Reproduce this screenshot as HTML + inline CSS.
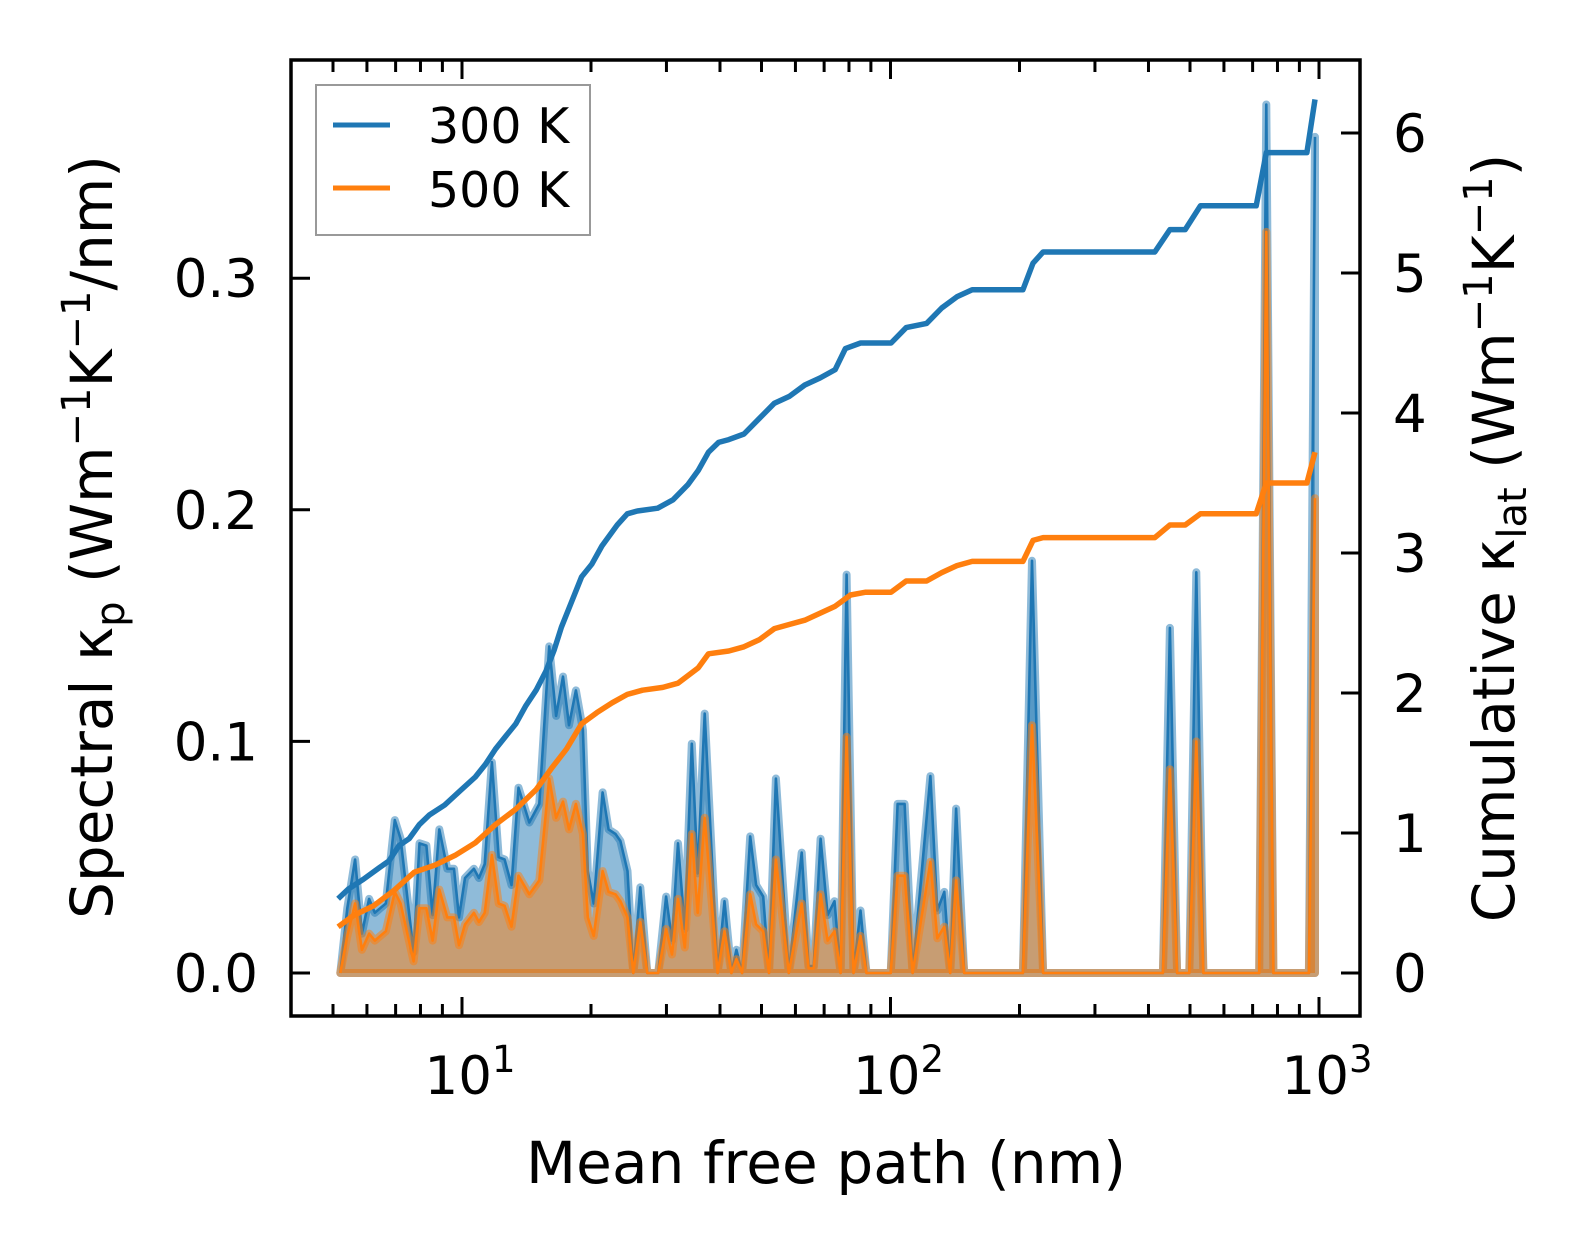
<!DOCTYPE html>
<html><head><meta charset="utf-8"><style>
html,body{margin:0;padding:0;background:#fff;}
svg{display:block;font-family:"DejaVu Sans","Liberation Sans",sans-serif;}
</style></head><body>
<svg id="chart" width="1586" height="1254" viewBox="0 0 1586 1254" xmlns="http://www.w3.org/2000/svg">
<defs><clipPath id="clip"><rect x="291" y="60" width="1069" height="956"/></clipPath></defs>
<rect width="1586" height="1254" fill="#fff"/>
<g id="plot" clip-path="url(#clip)"></g>
<g id="axes"></g>
<g>
<rect x="316" y="85" width="274" height="150" fill="#fff" stroke="#999" stroke-width="2"/>
<line x1="333" y1="125" x2="390" y2="125" stroke="#1f77b4" stroke-width="5"/>
<text x="428" y="143" font-size="49">300 K</text>
<line x1="333" y1="188" x2="390" y2="188" stroke="#ff7f0e" stroke-width="5"/>
<text x="428" y="207" font-size="49">500 K</text>
</g>
<text x="826" y="1183" font-size="58" text-anchor="middle" textLength="600">Mean free path (nm)</text>
<text transform="translate(112,537) rotate(-90)" font-size="58" text-anchor="middle">Spectral κ<tspan font-size="40" dy="12">p</tspan><tspan dy="-12"> (Wm</tspan><tspan font-size="40" dy="-22">−1</tspan><tspan dy="22">K</tspan><tspan font-size="40" dy="-22">−1</tspan><tspan dy="22">/nm)</tspan></text>
<text transform="translate(1514,538) rotate(-90)" font-size="58" text-anchor="middle">Cumulative κ<tspan font-size="40" dy="12">lat</tspan><tspan dy="-12"> (Wm</tspan><tspan font-size="40" dy="-22">−1</tspan><tspan dy="22">K</tspan><tspan font-size="40" dy="-22">−1</tspan><tspan dy="22">)</tspan></text>
</svg>
<script>
// spectral data (mean free path in nm)
const specMfp = [5.20,5.40,5.63,5.84,6.07,6.26,6.64,6.97,7.19,7.71,7.96,8.26,8.54,8.85,9.24,9.58,9.84,10.16,10.66,10.95,11.30,11.74,12.18,12.57,13.05,13.55,14.36,15.15,15.98,16.58,17.21,17.77,18.44,19.15,19.66,20.29,21.29,21.98,22.81,23.43,24.33,25.11,26.07,27.06,27.94,28.70,29.94,30.91,31.92,33.11,34.37,35.49,36.84,39.49,40.99,42.53,43.70,45.06,47.06,48.58,50.45,52.06,54.03,57.89,62.04,64.41,66.17,68.67,71.31,74.03,76.46,78.97,81.99,85.1,87.9,100.1,103.9,107.9,112.6,123.9,128.6,133.5,137.8,142.3,148.6,203.7,213.9,227.1,432.2,448.9,466.4,498.0,517.2,537.3,725.3,753.4,782.7,947.0,978.6];
const spec300 = [0,0.028,0.049,0.017,0.032,0.026,0.030,0.066,0.058,0.009,0.056,0.055,0.025,0.062,0.045,0.045,0.024,0.041,0.045,0.041,0.047,0.091,0.050,0.049,0.038,0.080,0.065,0.073,0.141,0.111,0.128,0.107,0.122,0.105,0.044,0.030,0.078,0.062,0.060,0.057,0.044,0,0.037,0,0,0,0.033,0.014,0.056,0.019,0.099,0.043,0.112,0,0.031,0,0.010,0,0.059,0.038,0.033,0,0.084,0,0.052,0.003,0.003,0.058,0.025,0.031,0,0.172,0,0.027,0,0,0.073,0.073,0,0.085,0.027,0.035,0,0.071,0,0,0.178,0,0,0.149,0,0,0.173,0,0,0.375,0,0,0.361];
const spec500 = [0,0.016,0.030,0.010,0.017,0.014,0.018,0.035,0.030,0.005,0.028,0.028,0.014,0.036,0.024,0.024,0.012,0.021,0.026,0.022,0.026,0.051,0.030,0.029,0.020,0.042,0.034,0.040,0.084,0.067,0.074,0.062,0.073,0.060,0.024,0.016,0.044,0.035,0.034,0.031,0.024,0,0.022,0,0,0,0.019,0.008,0.032,0.011,0.060,0.026,0.067,0,0.018,0,0.006,0,0.034,0.021,0.018,0,0.049,0,0.030,0.002,0.002,0.034,0.014,0.018,0,0.102,0,0.016,0,0,0.042,0.042,0,0.048,0.015,0.020,0,0.040,0,0,0.107,0,0,0.088,0,0,0.100,0,0,0.320,0,0,0.205];
// cumulative data
const cumMfp300 = [5.14,5.43,5.89,6.40,6.75,7.13,7.53,7.95,8.40,9.11,9.89,10.74,11.34,11.97,12.64,13.35,14.10,14.89,15.72,16.42,17.06,18.01,19.02,20.09,21.21,23.02,24.31,25.67,28.63,31.07,33.71,35.60,37.61,39.71,41.94,45.50,49.38,53.58,58.14,63.10,68.48,74.31,78.46,85.15,100.3,108.8,121.4,131.7,142.9,155.1,203.7,215.1,227.1,413.8,448.9,487.2,528.6,713.5,753.4,937.0,978.6];
const cum300 = [0.53,0.60,0.67,0.75,0.80,0.91,0.96,1.06,1.13,1.20,1.30,1.40,1.49,1.60,1.69,1.78,1.91,2.02,2.16,2.31,2.47,2.65,2.83,2.92,3.05,3.20,3.28,3.30,3.32,3.38,3.49,3.59,3.72,3.79,3.81,3.85,3.96,4.07,4.12,4.20,4.25,4.31,4.46,4.50,4.50,4.61,4.64,4.75,4.83,4.88,4.88,5.07,5.15,5.15,5.31,5.31,5.48,5.48,5.86,5.86,6.24];
const cumMfp500 = [5.14,5.58,6.22,6.94,7.74,8.64,9.63,10.74,11.97,13.35,14.89,16.16,17.53,19.02,20.64,22.40,24.31,26.38,29.42,31.92,35.60,37.61,41.94,45.50,49.38,53.58,58.14,63.10,68.48,74.31,80.66,87.52,100.3,108.8,121.4,131.7,142.9,155.1,203.7,215.1,227.1,413.8,448.9,487.2,528.6,713.5,753.4,937.0,978.6];
const cum500 = [0.33,0.41,0.48,0.59,0.72,0.77,0.84,0.93,1.06,1.17,1.31,1.46,1.60,1.78,1.86,1.93,1.99,2.02,2.04,2.07,2.18,2.28,2.30,2.33,2.38,2.46,2.49,2.52,2.57,2.62,2.70,2.72,2.72,2.80,2.80,2.86,2.91,2.94,2.94,3.09,3.11,3.11,3.20,3.20,3.28,3.28,3.50,3.50,3.72];
const leftTicks = [0.0,0.1,0.2,0.3];
const leftTickLabels = ["0.0","0.1","0.2","0.3"];
const rightTicks = [0,1,2,3,4,5,6];
const xMajor = [1,2,3];

const NS = "http://www.w3.org/2000/svg";
const X = m => 462 + (Math.log10(m) - 1) * 428.5;
const YL = v => 973 - v * 2316;
const YR = v => 973 - v * 140;
function mk(tag, attrs, parent){const e=document.createElementNS(NS,tag);for(const k in attrs)e.setAttribute(k,attrs[k]);parent.appendChild(e);return e;}
const plot = document.getElementById('plot');
const axes = document.getElementById('axes');

function areaPath(xs, ys){
  let d = 'M' + X(xs[0]).toFixed(1) + ',' + YL(0).toFixed(1);
  for (let i=0;i<xs.length;i++) d += 'L' + X(xs[i]).toFixed(1) + ',' + YL(ys[i]).toFixed(1);
  d += 'L' + X(xs[xs.length-1]).toFixed(1) + ',' + YL(0).toFixed(1) + 'Z';
  return d;
}
function linePath(xs, ys, yf){
  let d='';
  for (let i=0;i<xs.length;i++) d += (i?'L':'M') + X(xs[i]).toFixed(1) + ',' + yf(ys[i]).toFixed(1);
  return d;
}
[[spec300,'#1f77b4','spectral-300k'],[spec500,'#ff7f0e','spectral-500k']].forEach(([ys,c,n])=>{
  const a = mk('path',{d:areaPath(specMfp,ys),fill:c,'fill-opacity':0.5,stroke:c,'stroke-opacity':0.5,'stroke-width':8,'stroke-linejoin':'round'},plot);
  
  
  const l = mk('path',{d:linePath(specMfp,ys,YL),fill:'none',stroke:c,'stroke-width':2.6,'stroke-linejoin':'round'},plot);
  
  
});
const c3 = mk('path',{d:linePath(cumMfp300,cum300,YR),fill:'none',stroke:'#1f77b4','stroke-width':5.5,'stroke-linejoin':'round'},plot);


const c5 = mk('path',{d:linePath(cumMfp500,cum500,YR),fill:'none',stroke:'#ff7f0e','stroke-width':5.5,'stroke-linejoin':'round'},plot);



// frame
const fr = mk('rect',{x:291,y:60,width:1069,height:956,fill:'none',stroke:'#000','stroke-width':3.5},axes);


// x ticks
for (let dec=0; dec<=3; dec++){
  for (let k=1;k<=9;k++){
    const m = Math.pow(10,dec)*k;
    const x = X(m);
    if (x < 293 || x > 1358) continue;
    const len = k===1 ? 19 : 12;
    const tb = mk('line',{x1:x,y1:1016,x2:x,y2:1016-len,stroke:'#000','stroke-width':3},axes);
    
    
    const tt = mk('line',{x1:x,y1:60,x2:x,y2:60+len,stroke:'#000','stroke-width':3},axes);
    
    
  }
}
xMajor.forEach(p=>{
  const t = mk('text',{x:X(Math.pow(10,p))+8,y:1094,'font-size':53,'text-anchor':'middle'},axes);
  
  
  t.textContent = '10';
  const s = document.createElementNS(NS,'tspan');
  s.setAttribute('font-size','37'); s.setAttribute('dy','-22');
  s.textContent = String(p);
  t.appendChild(s);
});
leftTicks.forEach((v,i)=>{
  const y = YL(v);
  const tk = mk('line',{x1:291,y1:y,x2:310,y2:y,stroke:'#000','stroke-width':3},axes);
  
  
  const t = mk('text',{x:258,y:y+19,'font-size':53,'text-anchor':'end'},axes);
  
  
  t.textContent = leftTickLabels[i];
});
rightTicks.forEach(v=>{
  const y = YR(v);
  const tk = mk('line',{x1:1341,y1:y,x2:1360,y2:y,stroke:'#000','stroke-width':3},axes);
  
  
  const t = mk('text',{x:1393,y:y+19,'font-size':53},axes);
  
  
  t.textContent = String(v);
});
</script>
</body></html>
